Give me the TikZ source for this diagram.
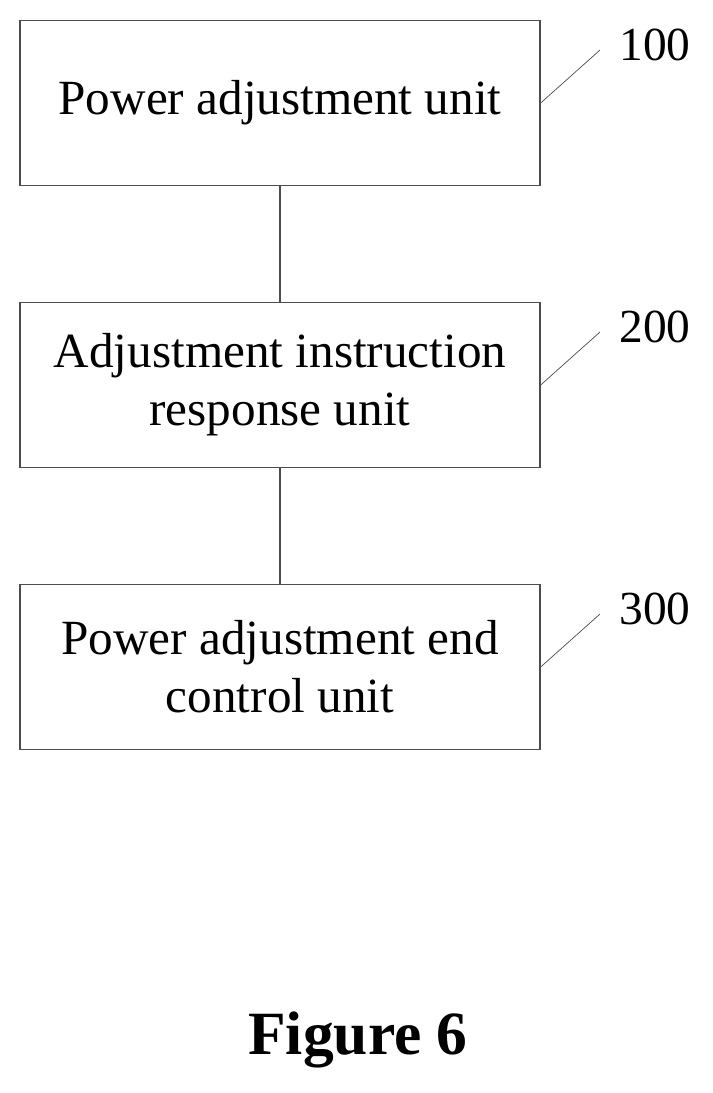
\documentclass[tikz,border=0pt]{standalone}
\usepackage{fontspec}
\setmainfont{Liberation Serif}
\usetikzlibrary{positioning}
\tikzset{>=stealth}
\tikzset{unit/.style={draw=black!70,line width=0.8pt,minimum width=10.4cm,minimum height=3.3cm,
  align=center,font=\fontsize{28}{33}\selectfont},
  refnum/.style={font=\fontsize{27}{30}\selectfont}}

\begin{document}
\begin{tikzpicture}[x=0.02cm,y=-0.02cm]
    \useasboundingbox (0,0) rectangle (713,1093);
    \node[unit] (pau) at (280,103) {Power adjustment unit};
    \node[unit] (air) at (280,385) {Adjustment instruction\\response unit};
    \node[unit] (paec) at (280,667) {Power adjustment end\\control unit};
    \draw[black!70,line width=0.8pt] (pau) -- (air) (air) -- (paec);
    \node[refnum] (n100) at (655,45) {100};
    \node[refnum] (n200) at (655,327) {200};
    \node[refnum] (n300) at (655,609) {300};
    \draw[black!70] (pau.east) -- (600,50);
    \draw[black!70] (air.east) -- (600,332);
    \draw[black!70] (paec.east) -- (600,614);
    \node[font=\bfseries\fontsize{35}{40}\selectfont] (fig) at (358,1040) {Figure 6};
\end{tikzpicture}
\end{document}
